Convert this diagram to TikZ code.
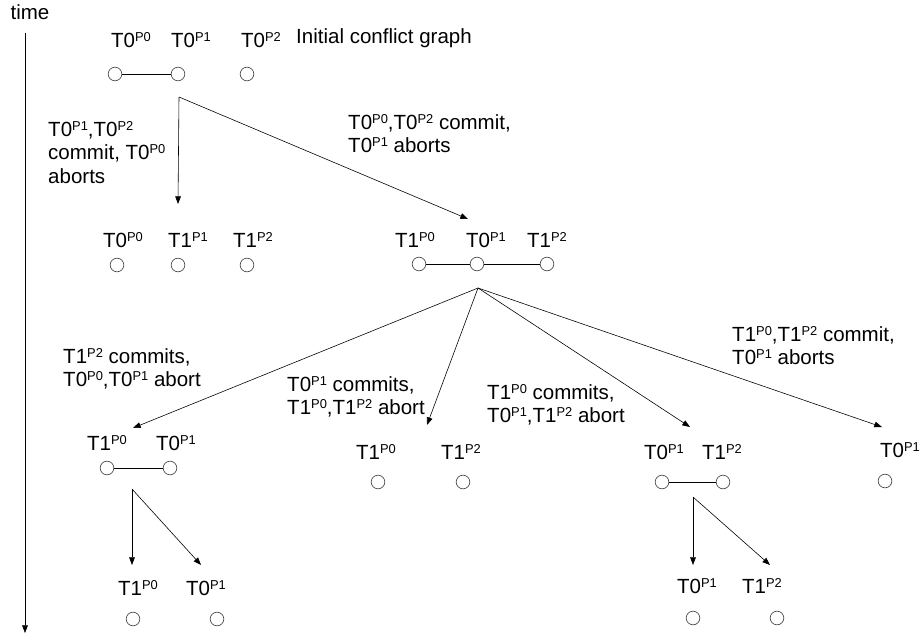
\documentclass[tikz,border=0pt]{standalone}
\usepackage{fontspec}
\setmainfont{Liberation Sans}
\usetikzlibrary{arrows.meta}
\newcommand{\tp}[2]{T#1\raisebox{0.3em}{\fontsize{11}{11}\selectfont P#2}}

\begin{document}
\begin{tikzpicture}[x=0.03cm, y=-0.03cm, font=\fontsize{17.5}{20}\selectfont]
% Styles
\tikzset{
    vtx/.style={circle, draw=black!70, line width=0.6pt, minimum size=4.1mm, inner sep=0pt},
    lbl/.style={inner sep=0pt},
    note/.style={align=left, anchor=north west, inner sep=0pt},
    move/.style={-{Triangle[length=2.3mm, width=1.7mm]}, line width=0.5pt},
    link/.style={line width=0.6pt}
}
\useasboundingbox (0,0) rectangle (922,635);

% Time axis
\node[lbl] (time) at (30,12) {time};
\coordinate (tTop) at (25,33);
\coordinate (tEnd) at (25,633);
\draw[move] (tTop) -- (tEnd);

% Initial conflict graph
\node[lbl] (L00) at (131,40) {\tp00};
\node[lbl] (L01) at (191,40) {\tp01};
\node[lbl] (L02) at (261,40) {\tp02};
\node[lbl, anchor=west] (init) at (296,38) {Initial conflict graph};
\node[vtx] (V00) at (115,74) {};
\node[vtx] (V01) at (178,74) {};
\node[vtx] (V02) at (247,74) {};
\draw[link] (V00) -- (V01);

% Second level, left
\node[lbl] (La0) at (123,240) {\tp00};
\node[lbl] (La1) at (188,240) {\tp11};
\node[lbl] (La2) at (253,240) {\tp12};
\node[vtx] (Va0) at (117,265) {};
\node[vtx] (Va1) at (178,265) {};
\node[vtx] (Va2) at (247,265) {};

% Second level, right
\node[lbl] (Lb0) at (415,240) {\tp10};
\node[lbl] (Lb1) at (486,240) {\tp01};
\node[lbl] (Lb2) at (547,240) {\tp12};
\node[vtx] (Vb0) at (419,264) {};
\node[vtx] (Vb1) at (477,264) {};
\node[vtx] (Vb2) at (547,264) {};
\draw[link] (Vb0) -- (Vb1) -- (Vb2);

% Third level
\node[lbl] (Lc0) at (107,443) {\tp10};
\node[lbl] (Lc1) at (176,443) {\tp01};
\node[vtx] (Vc0) at (107,468) {};
\node[vtx] (Vc1) at (170,468) {};
\draw[link] (Vc0) -- (Vc1);

\node[lbl] (Ld0) at (376,452) {\tp10};
\node[lbl] (Ld2) at (461,452) {\tp12};
\node[vtx] (Vd0) at (378,482) {};
\node[vtx] (Vd2) at (463,482) {};

\node[lbl] (Le1) at (664,452) {\tp01};
\node[lbl] (Le2) at (722,452) {\tp12};
\node[vtx] (Ve1) at (662,482) {};
\node[vtx] (Ve2) at (723,482) {};
\draw[link] (Ve1) -- (Ve2);

\node[lbl] (Lf1) at (900,450) {\tp01};
\node[vtx] (Vf1) at (885,481) {};

% Fourth level
\node[lbl] (Lg0) at (138,588) {\tp10};
\node[lbl] (Lg1) at (206,588) {\tp01};
\node[vtx] (Vg0) at (133,619) {};
\node[vtx] (Vg1) at (217,619) {};

\node[lbl] (Lh1) at (697,586) {\tp01};
\node[lbl] (Lh2) at (762,586) {\tp12};
\node[vtx] (Vh1) at (693,618) {};
\node[vtx] (Vh2) at (777,618) {};

% Branch points
\coordinate (s0) at (179,97);
\coordinate (s1) at (478,288);
\coordinate (sA) at (132,489);
\coordinate (sC) at (693,497);

% Transitions
\draw[move] (s0) -- (178,204);
\draw[move] (s0) -- (468,219);
\draw[move] (s1) -- (133,428);
\draw[move] (s1) -- (427,425);
\draw[move] (s1) -- (690,427);
\draw[move] (s1) -- (882,427);
\draw[move] (sA) -- (132,565);
\draw[move] (sA) -- (201,565);
\draw[move] (sC) -- (693,565);
\draw[move] (sC) -- (770,565);

% Notes
\node[note] (n1) at (48,121) {\tp01,\tp02\\commit, \tp00\\aborts};
\node[note] (n2) at (348,114) {\tp00,\tp02 commit,\\\tp01 aborts};
\node[note] (n3) at (63,348) {\tp12 commits,\\\tp00,\tp01 abort};
\node[note] (n4) at (287,376) {\tp01 commits,\\\tp10,\tp12 abort};
\node[note] (n5) at (487,384) {\tp10 commits,\\\tp01,\tp12 abort};
\node[note] (n6) at (732,326) {\tp10,\tp12 commit,\\\tp01 aborts};
\end{tikzpicture}
\end{document}
